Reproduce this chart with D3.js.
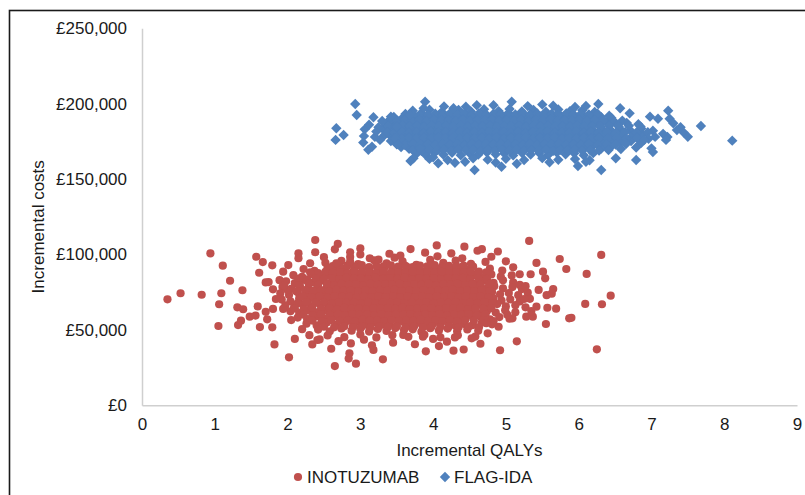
<!DOCTYPE html>
<html><head><meta charset="utf-8">
<script src="https://cdn.jsdelivr.net/npm/d3@7"></script>
<style>body{margin:0;background:#fff}svg text{font-family:"Liberation Sans",Arial,sans-serif;fill:#1a1a1a}</style>
</head><body><svg id="chart" width="805" height="495"></svg>
<script>
// ---- data ----
const xTickValues = [0,1,2,3,4,5,6,7,8,9];
const yTickValues = [0,50000,100000,150000,200000,250000];
const seriesNames = ["INOTUZUMAB","FLAG-IDA"];
const seriesColors = ["#C0504D","#4F81BD"];
const xTitle = "Incremental QALYs";
const yTitle = "Incremental costs";
// points: [incremental QALYs, incremental costs in £ thousands]
const inotuzumab = [
[2.52,94.5],[2.74,95.8],[2.97,93.6],[3.19,96.2],[3.36,94.1],[3.58,95.5],[3.77,93.2],[3.96,96.4],[4.14,94.4],[4.31,95.9],[4.52,93.8],[4.72,95.1],[3.47,97.9],[4.06,98.8],[4.4,97.5],[2.86,98.3],
[2.22,90.4],[2.37,89.1],[2.55,91.2],[2.68,89.6],[2.8,90.8],[2.91,89.3],[3.02,91.5],[3.12,90.1],[3.23,88.9],[3.33,91.3],[3.44,90.2],[3.54,89.0],[3.65,91.4],[3.75,90.3],[3.86,88.8],[3.96,91.1],[4.07,89.7],[4.17,90.9],[4.28,89.2],[4.39,91.6],[4.5,90.0],[4.63,88.7],[4.78,90.6],[4.95,89.4],
[2.08,86.3],[2.2,85.1],[2.33,87.0],[2.45,85.5],[2.56,86.8],[2.66,84.9],[2.76,86.4],[2.86,85.3],[2.96,87.2],[3.06,85.8],[3.16,86.6],[3.26,84.8],[3.36,86.9],[3.46,85.4],[3.56,87.1],[3.66,85.0],[3.76,86.5],[3.86,85.6],[3.96,87.3],[4.06,84.7],[4.16,86.2],[4.26,85.2],[4.36,87.0],[4.46,85.7],[4.57,86.4],[4.68,84.9],[4.8,86.8],[4.93,85.3],[5.08,86.1],
[1.98,82.2],[2.1,81.0],[2.23,83.1],[2.36,81.6],[2.48,82.8],[2.59,80.7],[2.69,82.5],[2.79,81.3],[2.89,83.2],[2.99,81.9],[3.09,82.6],[3.19,80.9],[3.29,83.0],[3.39,81.5],[3.49,82.9],[3.59,81.1],[3.69,82.4],[3.79,81.7],[3.89,83.3],[3.99,80.8],[4.09,82.1],[4.19,81.4],[4.29,83.1],[4.39,81.8],[4.49,82.7],[4.6,80.9],[4.71,82.6],[4.83,81.2],[4.96,82.9],[5.1,81.5],
[1.93,78.4],[2.05,77.2],[2.17,79.1],[2.29,77.6],[2.41,78.9],[2.52,76.8],[2.62,78.6],[2.72,77.4],[2.82,79.2],[2.92,77.9],[3.02,78.5],[3.12,76.9],[3.22,79.0],[3.32,77.6],[3.42,78.8],[3.52,77.1],[3.62,78.4],[3.72,77.7],[3.82,79.3],[3.92,76.9],[4.02,78.2],[4.12,77.3],[4.22,79.1],[4.32,77.8],[4.42,78.7],[4.52,76.9],[4.62,78.6],[4.73,77.3],[4.84,79.0],[4.96,77.6],[5.09,78.4],[5.22,77.1],
[1.9,74.2],[2.02,73.1],[2.14,75.0],[2.26,73.5],[2.38,74.8],[2.49,72.8],[2.59,74.6],[2.69,73.3],[2.79,75.2],[2.89,73.9],[2.99,74.4],[3.09,72.9],[3.19,75.1],[3.29,73.6],[3.39,74.9],[3.49,73.0],[3.59,74.3],[3.69,73.7],[3.79,75.3],[3.89,72.8],[3.99,74.1],[4.09,73.2],[4.19,75.0],[4.29,73.8],[4.39,74.6],[4.49,72.9],[4.59,74.5],[4.7,73.4],[4.81,75.1],[4.92,73.6],[5.04,74.4],[5.17,73.0],[5.3,74.7],
[1.92,70.1],[2.04,69.0],[2.16,70.9],[2.28,69.4],[2.4,70.7],[2.51,68.8],[2.61,70.5],[2.71,69.2],[2.81,71.1],[2.91,69.8],[3.01,70.3],[3.11,68.9],[3.21,71.0],[3.31,69.5],[3.41,70.8],[3.51,68.9],[3.61,70.2],[3.71,69.6],[3.81,71.2],[3.91,68.7],[4.01,70.0],[4.11,69.1],[4.21,70.9],[4.31,69.7],[4.41,70.5],[4.51,68.8],[4.61,70.4],[4.72,69.3],[4.83,71.0],[4.94,69.5],[5.06,70.3],[5.19,68.9],[5.33,70.6],
[1.97,66.2],[2.09,65.1],[2.21,67.0],[2.33,65.5],[2.45,66.8],[2.56,64.9],[2.66,66.6],[2.76,65.3],[2.86,67.2],[2.96,65.9],[3.06,66.4],[3.16,64.8],[3.26,67.1],[3.36,65.6],[3.46,66.9],[3.56,65.0],[3.66,66.3],[3.76,65.7],[3.86,67.3],[3.96,64.8],[4.06,66.1],[4.16,65.2],[4.26,67.0],[4.36,65.8],[4.46,66.6],[4.56,64.9],[4.66,66.5],[4.77,65.4],[4.88,67.1],[5.0,65.6],[5.13,66.4],[5.27,65.0],
[2.04,62.3],[2.16,61.2],[2.28,63.1],[2.4,61.6],[2.52,62.9],[2.63,61.0],[2.73,62.7],[2.83,61.4],[2.93,63.3],[3.03,62.0],[3.13,62.5],[3.23,60.9],[3.33,63.2],[3.43,61.7],[3.53,63.0],[3.63,61.1],[3.73,62.4],[3.83,61.8],[3.93,63.4],[4.03,60.9],[4.13,62.2],[4.23,61.3],[4.33,63.1],[4.43,61.9],[4.53,62.7],[4.63,61.0],[4.74,62.6],[4.86,61.5],[4.99,63.0],[5.13,61.7],
[2.14,58.2],[2.27,57.1],[2.4,59.0],[2.52,57.5],[2.64,58.8],[2.75,56.9],[2.85,58.6],[2.95,57.3],[3.05,59.2],[3.15,57.9],[3.25,58.4],[3.35,56.8],[3.45,59.1],[3.55,57.6],[3.65,58.9],[3.75,57.0],[3.85,58.3],[3.95,57.7],[4.05,59.3],[4.15,56.8],[4.25,58.1],[4.35,57.2],[4.45,59.0],[4.55,57.8],[4.66,58.6],[4.78,57.0],[4.91,58.5],[5.05,57.4],
[2.26,54.1],[2.4,53.0],[2.54,54.9],[2.67,53.4],[2.79,54.7],[2.9,52.8],[3.0,54.5],[3.1,53.2],[3.2,55.1],[3.3,53.8],[3.4,54.3],[3.5,52.7],[3.6,55.0],[3.7,53.5],[3.8,54.8],[3.9,52.9],[4.0,54.2],[4.1,53.6],[4.2,55.2],[4.31,52.8],[4.42,54.0],[4.54,53.1],[4.67,54.9],[4.81,53.7],
[2.42,50.2],[2.58,49.1],[2.74,51.0],[2.88,49.5],[3.0,50.8],[3.12,48.9],[3.24,50.6],[3.36,49.3],[3.48,51.2],[3.6,49.9],[3.72,50.4],[3.84,48.8],[3.96,51.1],[4.08,49.6],[4.2,50.9],[4.33,49.0],[4.47,50.3],[4.62,49.4],
[2.55,46.3],[2.78,45.2],[3.0,46.9],[3.22,45.0],[3.44,46.5],[3.66,45.4],[3.88,46.8],[4.1,45.1],[4.34,46.4],[4.58,45.6],
[2.62,92.3],[2.72,91.8],[2.82,92.6],[2.92,92.0],[3.02,92.9],[3.12,91.7],[3.22,92.4],[3.32,92.1],[3.42,92.8],[3.52,91.9],[3.62,92.5],[3.72,91.6],[3.82,92.7],[3.92,92.2],[4.02,92.9],[4.12,91.8],[4.22,92.4],[4.32,92.0],[4.42,92.6],[4.55,91.9],
[2.31,88.2],[2.42,87.6],[2.52,88.5],[2.62,87.9],[2.72,88.4],[2.82,87.7],[2.92,88.6],[3.02,88.1],[3.12,88.3],[3.22,87.5],[3.32,88.7],[3.42,87.8],[3.52,88.4],[3.62,88.0],[3.72,88.6],[3.82,87.6],[3.92,88.3],[4.02,87.9],[4.12,88.5],[4.22,87.7],[4.32,88.4],[4.42,88.1],[4.52,88.6],[4.62,87.6],[4.73,88.2],
[2.15,84.1],[2.27,83.6],[2.39,84.4],[2.5,83.8],[2.61,84.3],[2.71,83.7],[2.81,84.5],[2.91,84.0],[3.01,84.2],[3.11,83.5],[3.21,84.6],[3.31,83.8],[3.41,84.3],[3.51,83.9],[3.61,84.5],[3.71,83.6],[3.81,84.2],[3.91,83.8],[4.01,84.4],[4.11,83.6],[4.21,84.3],[4.31,84.0],[4.41,84.5],[4.51,83.7],[4.62,84.2],[4.74,83.8],
[2.16,79.7],[2.29,80.5],[2.42,79.9],[2.54,80.4],[2.64,79.6],[2.74,80.6],[2.84,80.0],[2.94,80.3],[3.04,79.6],[3.14,80.5],[3.24,79.8],[3.34,80.4],[3.44,80.0],[3.54,80.6],[3.64,79.7],[3.74,80.3],[3.84,79.9],[3.94,80.5],[4.04,79.6],[4.14,80.4],[4.24,80.1],[4.34,80.6],[4.44,79.7],[4.54,80.2],[4.65,79.9],[4.77,80.5],
[2.12,75.7],[2.24,76.4],[2.35,75.9],[2.46,76.3],[2.57,75.6],[2.67,76.5],[2.77,76.0],[2.87,76.2],[2.97,75.6],[3.07,76.4],[3.17,75.8],[3.27,76.3],[3.37,75.9],[3.47,76.5],[3.57,75.7],[3.67,76.2],[3.77,75.8],[3.87,76.4],[3.97,75.6],[4.07,76.3],[4.17,76.0],[4.27,76.5],[4.37,75.7],[4.47,76.1],[4.57,75.8],[4.67,76.4],[4.78,75.7],
[2.21,72.3],[2.33,71.8],[2.44,72.2],[2.55,71.5],[2.65,72.4],[2.75,71.9],[2.85,72.1],[2.95,71.5],[3.05,72.3],[3.15,71.7],[3.25,72.2],[3.35,71.8],[3.45,72.4],[3.55,71.6],[3.65,72.1],[3.75,71.7],[3.85,72.3],[3.95,71.5],[4.05,72.2],[4.15,71.9],[4.25,72.4],[4.35,71.6],[4.45,72.0],[4.55,71.7],[4.65,72.3],[4.76,71.6],
[2.14,67.7],[2.26,68.4],[2.38,67.9],[2.5,68.3],[2.61,67.6],[2.71,68.5],[2.81,68.0],[2.91,68.2],[3.01,67.6],[3.11,68.4],[3.21,67.8],[3.31,68.3],[3.41,67.9],[3.51,68.5],[3.61,67.7],[3.71,68.2],[3.81,67.8],[3.91,68.4],[4.01,67.6],[4.11,68.3],[4.21,68.0],[4.31,68.5],[4.41,67.7],[4.51,68.1],[4.61,67.8],[4.71,68.4],[4.82,67.7],
[2.1,64.2],[2.22,63.8],[2.34,64.5],[2.46,64.0],[2.58,64.4],[2.68,63.7],[2.78,64.6],[2.88,64.1],[2.98,64.3],[3.08,63.7],[3.18,64.5],[3.28,63.9],[3.38,64.4],[3.48,64.0],[3.58,64.6],[3.68,63.8],[3.78,64.3],[3.88,63.9],[3.98,64.5],[4.08,63.7],[4.18,64.4],[4.28,64.1],[4.38,64.6],[4.48,63.8],[4.58,64.2],[4.69,63.9],[4.8,64.5],
[2.22,60.1],[2.34,59.7],[2.46,60.4],[2.58,59.9],[2.69,60.3],[2.79,59.6],[2.89,60.5],[2.99,60.0],[3.09,60.2],[3.19,59.6],[3.29,60.4],[3.39,59.8],[3.49,60.3],[3.59,59.9],[3.69,60.5],[3.79,59.7],[3.89,60.2],[3.99,59.8],[4.09,60.4],[4.19,59.6],[4.29,60.3],[4.39,60.0],[4.49,60.5],[4.6,59.7],[4.72,60.1],
[2.34,56.2],[2.47,55.8],[2.6,56.5],[2.72,56.0],[2.83,56.4],[2.93,55.7],[3.03,56.6],[3.13,56.1],[3.23,56.3],[3.33,55.7],[3.43,56.5],[3.53,55.9],[3.63,56.4],[3.73,56.0],[3.83,56.6],[3.93,55.8],[4.03,56.3],[4.13,55.9],[4.23,56.5],[4.33,55.7],[4.44,56.4],[4.56,56.1],[4.69,56.5],[4.83,55.8],
[2.5,52.1],[2.64,51.7],[2.78,52.4],[2.9,51.9],[3.02,52.3],[3.14,51.6],[3.26,52.5],[3.38,52.0],[3.5,52.2],[3.62,51.6],[3.74,52.4],[3.86,51.8],[3.98,52.3],[4.1,51.9],[4.22,52.5],[4.35,51.7],[4.49,52.2],[4.63,51.8],
[0.35,70.3],[0.53,74.3],[0.82,73.3],[0.94,100.8],[1.11,92.6],[1.21,82.6],[1.09,74.3],[1.06,67],[1.05,52.6],[1.38,76.3],[1.31,65],[1.39,63.7],[1.32,53.2],[1.36,56.1],[1.48,58.8],[1.56,59.5],[1.59,65.6],[1.62,51.9],[1.79,51.7],[1.72,57],[1.7,62],[1.8,63.9],[1.57,98.5],[1.66,95],[1.61,87.9],[1.7,81.5],[1.74,81.7],[1.79,92.8],[1.8,76.9],[1.84,70.5],[1.94,63.9],[1.82,40.4],[2.02,31.8],[2.1,44],[2.34,40.4],[2.41,43.3],[2.44,43.7],[2.6,37.5],[2.65,26],[2.94,27.6],[2.85,34.5],[2.84,31],[2.87,41],[3.18,36.7],[3.16,39.8],[2.38,109.6],[2.69,107],[2.65,103.4],[2.15,100.8],[2.15,97.5],[2.38,101.5],[2.86,101.5],[3.0,104],[3.0,100],[1.94,88.6],[1.89,83],[2.01,93],[2.31,94.2],[2.67,94.2],[2.86,95.3],[3.13,97.5],[3.25,96.6],
[5.32,109],[6.31,99.7],[5.74,97],[5.42,94.4],[5.83,90.4],[6.11,87.1],[5.51,88.6],[5.54,84.2],[5.34,86.9],[5.19,86.9],[6.44,72.7],[6.32,67],[6.09,67.2],[5.69,64.1],[5.57,64.7],[5.65,77.1],[5.63,74],[5.56,73],[5.87,57.7],[5.9,58],[5.55,53.9],[6.25,37.1],[4.92,36.5],[5.15,42.4],[4.75,47.7],[4.9,52.1],[3.9,35.8],[3.31,30.5],[4.28,36.2],[4.42,37],[4.08,39.3],[4.0,44],[4.19,42.2],[3.69,103.6],[4.05,106],[4.43,105.2],[4.61,102.5],[4.67,103.5],[4.89,102],[3.89,101.2],[5.19,79.8],[5.27,79],[5.42,65.4],[5.28,58.8],[5.09,57.7],[5.02,60],[5.37,58.8],[4.73,54.4],[4.53,44.4],[4.3,45],[3.86,45.5],[3.59,46.7],
[3.4,100.5],[3.55,99.2],[4.25,100.8],[4.8,98.5],[5.0,95.5],[5.1,91.5],[5.25,70.5],[5.45,76.5],[5.35,62.5],[2.05,56.5],[2.2,50.5],[2.3,46.5],[2.7,42.5],[3.05,43.5],[3.45,41.5],[3.75,40.5],[4.65,40.8],[2.5,98.2],[2.0,76.5],[1.95,79.5]
];
const flagIda = [
[3.72,195.3],[3.95,196.0],[4.12,194.6],[4.35,195.8],[4.52,194.9],[4.7,196.3],[4.9,195.1],[5.05,196.5],[5.22,194.8],[5.38,195.9],[5.55,194.7],[5.72,196.2],[5.88,195.0],[6.05,195.6],[6.22,194.5],[5.3,198.4],[4.45,198.0],[5.65,198.6],
[3.46,191.2],[3.57,190.1],[3.67,191.8],[3.78,190.4],[3.88,191.5],[3.98,189.9],[4.08,191.3],[4.18,190.2],[4.28,191.9],[4.38,190.6],[4.48,191.1],[4.58,189.8],[4.68,191.6],[4.78,190.3],[4.88,191.4],[4.98,190.0],[5.08,191.7],[5.18,190.5],[5.28,191.2],[5.38,189.9],[5.48,191.5],[5.58,190.4],[5.68,191.8],[5.78,190.1],[5.88,191.3],[5.98,190.7],[6.08,191.6],[6.19,190.2],[6.31,191.1],[6.45,190.5],
[3.36,187.3],[3.46,186.1],[3.56,187.8],[3.66,186.5],[3.76,187.6],[3.86,185.9],[3.96,187.4],[4.06,186.3],[4.16,187.9],[4.26,186.6],[4.36,187.1],[4.46,185.8],[4.56,187.7],[4.66,186.4],[4.76,187.5],[4.86,186.0],[4.96,187.8],[5.06,186.6],[5.16,187.2],[5.26,185.9],[5.36,187.6],[5.46,186.5],[5.56,187.9],[5.66,186.2],[5.76,187.4],[5.86,186.8],[5.96,187.7],[6.06,186.3],[6.16,187.2],[6.27,186.0],[6.39,187.5],[6.52,186.6],[6.66,187.3],[6.82,186.4],
[3.31,183.2],[3.41,182.0],[3.51,183.7],[3.61,182.4],[3.71,183.5],[3.81,181.8],[3.91,183.3],[4.01,182.2],[4.11,183.8],[4.21,182.5],[4.31,183.0],[4.41,181.7],[4.51,183.6],[4.61,182.3],[4.71,183.4],[4.81,181.9],[4.91,183.7],[5.01,182.5],[5.11,183.1],[5.21,181.8],[5.31,183.5],[5.41,182.4],[5.51,183.8],[5.61,182.1],[5.71,183.3],[5.81,182.7],[5.91,183.6],[6.01,182.2],[6.11,183.1],[6.21,181.9],[6.32,183.4],[6.44,182.5],[6.57,183.2],[6.71,182.3],[6.86,183.6],[7.02,182.1],
[3.33,179.1],[3.43,177.9],[3.53,179.6],[3.63,178.3],[3.73,179.4],[3.83,177.7],[3.93,179.2],[4.03,178.1],[4.13,179.7],[4.23,178.4],[4.33,178.9],[4.43,177.6],[4.53,179.5],[4.63,178.2],[4.73,179.3],[4.83,177.8],[4.93,179.6],[5.03,178.4],[5.13,179.0],[5.23,177.7],[5.33,179.4],[5.43,178.3],[5.53,179.7],[5.63,178.0],[5.73,179.2],[5.83,178.6],[5.93,179.5],[6.03,178.1],[6.13,179.0],[6.23,177.8],[6.34,179.3],[6.46,178.4],[6.59,179.1],[6.73,178.2],[6.88,179.5],[7.05,178.0],
[3.42,175.2],[3.52,174.0],[3.62,175.7],[3.72,174.4],[3.82,175.5],[3.92,173.8],[4.02,175.3],[4.12,174.2],[4.22,175.8],[4.32,174.5],[4.42,175.0],[4.52,173.7],[4.62,175.6],[4.72,174.3],[4.82,175.4],[4.92,173.9],[5.02,175.7],[5.12,174.5],[5.22,175.1],[5.32,173.8],[5.42,175.5],[5.52,174.4],[5.62,175.8],[5.72,174.1],[5.82,175.3],[5.92,174.7],[6.02,175.6],[6.12,174.2],[6.22,175.1],[6.33,173.9],[6.45,175.4],[6.58,174.5],[6.72,175.2],[6.86,174.0],
[3.56,171.3],[3.67,170.1],[3.78,171.8],[3.88,170.5],[3.98,171.6],[4.08,169.9],[4.18,171.4],[4.28,170.3],[4.38,171.9],[4.48,170.6],[4.58,171.1],[4.68,169.8],[4.78,171.7],[4.88,170.4],[4.98,171.5],[5.08,170.0],[5.18,171.8],[5.28,170.6],[5.38,171.2],[5.48,169.9],[5.58,171.6],[5.68,170.5],[5.78,171.9],[5.88,170.2],[5.98,171.4],[6.08,170.8],[6.19,171.7],[6.31,170.3],[6.44,171.2],[6.58,170.0],
[3.78,167.2],[3.9,166.0],[4.02,167.6],[4.14,166.3],[4.26,167.4],[4.38,165.8],[4.5,167.3],[4.62,166.2],[4.74,167.7],[4.86,166.4],[4.98,167.0],[5.1,165.7],[5.22,167.5],[5.34,166.3],[5.46,167.3],[5.58,165.9],[5.7,167.6],[5.82,166.5],[5.94,167.1],[6.07,165.8],[6.2,167.2],
[3.95,163.4],[4.2,162.6],[4.55,163.8],[4.75,162.9],[5.0,163.5],[5.25,162.7],[5.5,163.9],[5.72,162.8],[5.95,163.3],[6.15,162.5],
[3.62,193.2],[3.73,192.8],[3.83,193.5],[3.93,192.9],[4.03,193.4],[4.13,192.7],[4.23,193.6],[4.33,193.0],[4.43,193.3],[4.53,192.7],[4.63,193.5],[4.73,192.9],[4.83,193.4],[4.93,193.0],[5.03,193.6],[5.13,192.8],[5.23,193.3],[5.33,192.9],[5.43,193.5],[5.53,192.7],[5.63,193.4],[5.73,193.1],[5.83,193.6],[5.93,192.8],[6.03,193.2],[6.14,192.9],[6.26,193.4],
[3.41,189.1],[3.51,188.7],[3.61,189.4],[3.71,188.9],[3.81,189.3],[3.91,188.6],[4.01,189.5],[4.11,189.0],[4.21,189.2],[4.31,188.6],[4.41,189.4],[4.51,188.8],[4.61,189.3],[4.71,188.9],[4.81,189.5],[4.91,188.7],[5.01,189.2],[5.11,188.8],[5.21,189.4],[5.31,188.6],[5.41,189.3],[5.51,189.0],[5.61,189.5],[5.71,188.7],[5.81,189.1],[5.91,188.8],[6.01,189.4],[6.11,188.7],[6.22,189.2],[6.34,188.9],[6.46,189.3],[6.6,188.8],
[3.38,185.2],[3.48,184.8],[3.58,185.5],[3.68,185.0],[3.78,185.4],[3.88,184.7],[3.98,185.6],[4.08,185.1],[4.18,185.3],[4.28,184.7],[4.38,185.5],[4.48,184.9],[4.58,185.4],[4.68,185.0],[4.78,185.6],[4.88,184.8],[4.98,185.3],[5.08,184.9],[5.18,185.5],[5.28,184.7],[5.38,185.4],[5.48,185.1],[5.58,185.6],[5.68,184.8],[5.78,185.2],[5.88,184.9],[5.98,185.5],[6.08,184.8],[6.19,185.3],[6.3,185.0],[6.42,185.4],[6.55,184.9],[6.69,185.3],[6.85,184.8],
[3.37,181.1],[3.47,180.7],[3.57,181.4],[3.67,180.9],[3.77,181.3],[3.87,180.6],[3.97,181.5],[4.07,181.0],[4.17,181.2],[4.27,180.6],[4.37,181.4],[4.47,180.8],[4.57,181.3],[4.67,180.9],[4.77,181.5],[4.87,180.7],[4.97,181.2],[5.07,180.8],[5.17,181.4],[5.27,180.6],[5.37,181.3],[5.47,181.0],[5.57,181.5],[5.67,180.7],[5.77,181.1],[5.87,180.8],[5.97,181.4],[6.07,180.7],[6.17,181.2],[6.27,180.9],[6.39,181.3],[6.51,180.8],[6.64,181.2],[6.79,180.7],[6.95,181.1],
[3.47,177.2],[3.57,176.8],[3.67,177.5],[3.77,177.0],[3.87,177.4],[3.97,176.7],[4.07,177.6],[4.17,177.1],[4.27,177.3],[4.37,176.7],[4.47,177.5],[4.57,176.9],[4.67,177.4],[4.77,177.0],[4.87,177.6],[4.97,176.8],[5.07,177.3],[5.17,176.9],[5.27,177.5],[5.37,176.7],[5.47,177.4],[5.57,177.1],[5.67,177.6],[5.77,176.8],[5.87,177.2],[5.97,176.9],[6.07,177.5],[6.17,176.8],[6.28,177.3],[6.4,177.0],[6.52,177.4],[6.65,176.9],[6.8,177.3],[6.96,176.8],
[3.5,173.1],[3.61,172.7],[3.72,173.4],[3.83,172.9],[3.93,173.3],[4.03,172.6],[4.13,173.5],[4.23,173.0],[4.33,173.2],[4.43,172.6],[4.53,173.4],[4.63,172.8],[4.73,173.3],[4.83,172.9],[4.93,173.5],[5.03,172.7],[5.13,173.2],[5.23,172.8],[5.33,173.4],[5.43,172.6],[5.53,173.3],[5.63,173.0],[5.73,173.5],[5.83,172.7],[5.93,173.1],[6.03,172.8],[6.14,173.4],[6.26,172.7],[6.38,173.2],[6.51,172.9],[6.65,173.3],
[3.72,169.2],[3.84,168.8],[3.95,169.5],[4.05,169.0],[4.15,169.4],[4.25,168.7],[4.35,169.6],[4.45,169.1],[4.55,169.3],[4.65,168.7],[4.75,169.5],[4.85,168.9],[4.95,169.4],[5.05,169.0],[5.15,169.6],[5.25,168.8],[5.35,169.3],[5.45,168.9],[5.55,169.5],[5.65,168.7],[5.75,169.4],[5.85,169.1],[5.95,169.6],[6.05,168.8],[6.16,169.2],[6.28,168.9],[6.41,169.3],
[2.93,199.8],[2.95,192.5],[2.67,183.7],[2.66,176],[2.77,179.2],[3.06,183],[3.18,191],[3.25,184.4],[3.04,174.2],[3.16,171.5],[3.11,169.5],[3.27,176],[3.42,191.4],[3.68,192.5],[3.89,201.3],[3.87,197],[3.73,163.8],[3.69,162],[4.07,160.5],[3.82,170.4],[4.57,156],[4.44,161.5],[4.94,158.2],[4.86,161],[4.6,199],[4.83,199],[5.08,201.3],[4.28,197],[3.5,184.7],[3.48,177],[3.52,173],
[6.27,199.8],[6.57,197],[7.23,195.4],[7.25,190],[7.68,185.2],[7.4,184.4],[7.44,181],[7.5,178.1],[8.11,175.5],[7.22,178],[7.16,180],[6.98,191.4],[7.09,190],[6.7,193.6],[6.42,192],[6.79,171],[7.0,170.4],[7.02,168],[6.64,174],[6.51,163.8],[6.79,162.7],[6.31,156],[5.99,158.7],[7.2,176],[6.9,176],[7.3,187],[7.35,182.5],
[3.12,186],[3.2,178],[3.3,188.5],[3.22,181.5],[3.05,178.5],[4.3,160.8],[5.15,160.2],[5.6,161.2],[6.1,161.5],[4.0,164.5],[4.15,198.2],[5.5,199.5],[5.95,197.8],[6.1,198.5]
];

// ---- chart ----
const svg = d3.select("#chart");
svg.append("rect").attr("width",805).attr("height",495).attr("fill","#fff");
svg.append("rect").attr("x",9.5).attr("y",10.5).attr("width",900).attr("height",600)
  .attr("fill","none").attr("stroke","#1a1a1a").attr("stroke-width",1.6);

const plot = {left:142, right:797, top:28.3, bottom:405.3};
const x = d3.scaleLinear().domain([0,9]).range([plot.left, plot.right]);
const y = d3.scaleLinear().domain([0,250000]).range([plot.bottom, plot.top]);
const fs = 17;

const xAxis = svg.append("g").attr("transform",`translate(0,${plot.bottom})`)
  .call(d3.axisBottom(x).tickValues(xTickValues).tickSize(0).tickPadding(13).tickFormat(d3.format("d")));
const yAxis = svg.append("g").attr("transform",`translate(${plot.left},0)`)
  .call(d3.axisLeft(y).tickValues(yTickValues).tickSize(0).tickPadding(15)
    .tickFormat(v => "£" + d3.format(",")(v)));
[xAxis,yAxis].forEach(g => {
  g.select(".domain").attr("stroke","#cfcfcf").attr("stroke-width",1.5);
  g.selectAll("text").attr("font-size",fs).attr("font-family",null).attr("fill","#1a1a1a");
});

// points
const circles = svg.append("g");
circles.selectAll("circle").data(inotuzumab).join("circle")
  .attr("cx", d => x(d[0])).attr("cy", d => y(d[1]*1000)).attr("r",4.1)
  .attr("fill", seriesColors[0]);
const r = 5.2;
const diamondPath = `M0,${-r}L${r},0L0,${r}L${-r},0Z`;
const diamonds = svg.append("g");
diamonds.selectAll("path").data(flagIda).join("path")
  .attr("d", diamondPath)
  .attr("transform", d => `translate(${x(d[0])},${y(d[1]*1000)})`)
  .attr("fill", seriesColors[1]);

// titles
svg.append("text").attr("x",(plot.left+plot.right)/2).attr("y",456)
  .attr("text-anchor","middle").attr("font-size",fs).text(xTitle);
svg.append("text").attr("transform",`translate(44,${(plot.top+plot.bottom)/2 + 10}) rotate(-90)`)
  .attr("text-anchor","middle").attr("font-size",fs).text(yTitle);

// legend
const legend = svg.append("g");
const lg = [{x:298, name:seriesNames[0], c:seriesColors[0], shape:"circle"},
            {x:445, name:seriesNames[1], c:seriesColors[1], shape:"diamond"}];
lg.forEach(l => {
  if (l.shape === "circle") {
    legend.append("circle").attr("cx",l.x).attr("cy",477).attr("r",4.1).attr("fill",l.c);
  } else {
    legend.append("path").attr("d",diamondPath).attr("transform",`translate(${l.x},477)`).attr("fill",l.c);
  }
  legend.append("text").attr("x",l.x+9).attr("y",483).attr("font-size",fs).text(l.name);
});
</script>
</body></html>
